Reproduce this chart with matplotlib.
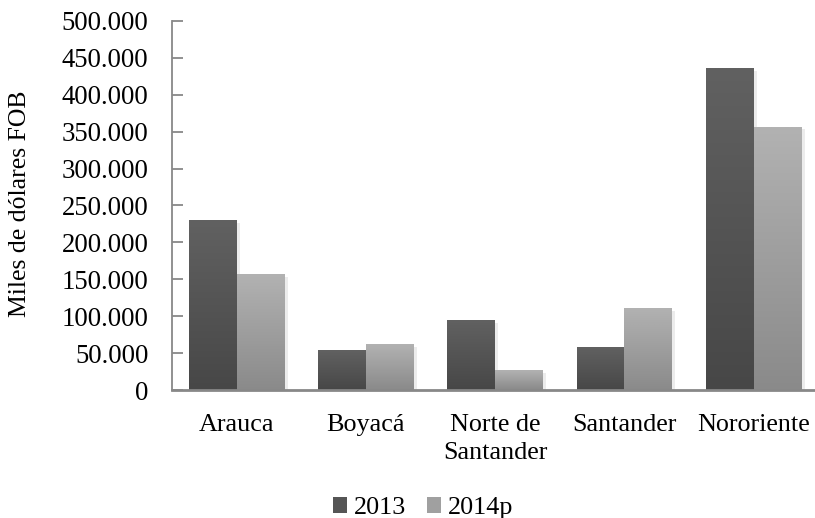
import numpy as np
import matplotlib
matplotlib.use("Agg")
from matplotlib import pyplot as plt
from matplotlib.colors import LinearSegmentedColormap
from matplotlib.patches import Patch
from matplotlib.ticker import FuncFormatter

# datos (miles de dólares FOB)
categorias = ["Arauca", "Boyacá", "Norte de\nSantander", "Santander", "Nororiente"]
serie_2013 = [229000, 53000, 93500, 58000, 435000]
serie_2014p = [156000, 61000, 26000, 110000, 356000]
nombres = ["2013", "2014p"]

plt.rcParams['font.family'] = ['Liberation Serif', 'DejaVu Serif']
plt.rcParams['font.size'] = 18.8

fig = plt.figure(figsize=(8.15, 5.18), dpi=100)
ax = fig.add_axes((172 / 815, 0.2471, 0.793, 0.7124))

# gradientes: arriba más claro, abajo más oscuro
cmap_dark = LinearSegmentedColormap.from_list("d", ["#474747", "#616161"])
cmap_light = LinearSegmentedColormap.from_list("l", ["#8a8a8a", "#b2b2b2"])
grad = np.linspace(0, 1, 256).reshape(-1, 1)

x = np.arange(len(categorias))
w = 0.37
for serie, off, cmap in [(serie_2013, -w / 2, cmap_dark), (serie_2014p, w / 2, cmap_light)]:
    bars = ax.bar(x + off, serie, width=w, color='none', zorder=2)
    for b in bars:
        x0, h = b.get_x(), b.get_height()
        # sombra suave
        sh = plt.Rectangle((x0 + 0.025, 0), w, h - 3000, color='#ececec', zorder=1, lw=0)
        ax.add_patch(sh)
        ax.imshow(grad, extent=[x0, x0 + w, 0, h], origin='lower', aspect='auto',
                  cmap=cmap, zorder=2, interpolation='bilinear')

ax.set_xlim(-0.5, 4.5)
ax.set_ylim(0, 500000)
ax.set_yticks(np.arange(0, 500001, 50000))
ax.yaxis.set_major_formatter(FuncFormatter(lambda v, p: f"{int(v):,}".replace(",", ".")))
ax.set_xticks(x)
ax.set_xticklabels(categorias, linespacing=1.4)
ax.tick_params(axis='x', length=0, pad=17)
ax.tick_params(axis='y', length=8, width=1.3, color='#888888', direction='in', pad=17,
               labelsize=19.3)

for s in ['top', 'right']:
    ax.spines[s].set_visible(False)
ax.spines['left'].set_color('#888888')
ax.spines['left'].set_linewidth(1.3)
ax.spines['bottom'].set_color('#888888')
ax.spines['bottom'].set_linewidth(2)
ax.spines['bottom'].set_zorder(3)

fig.text(20 / 815, 1 - 203.5 / 518, "Miles de dólares FOB", rotation=90,
         ha='center', va='center', fontsize=18.5)

handles = [Patch(facecolor='#555555', edgecolor='none'), Patch(facecolor='#a0a0a0', edgecolor='none')]
fig.legend(handles, nombres, loc='center', bbox_to_anchor=(0.519, 0.019), ncol=2, frameon=False,
           handlelength=0.55, handleheight=0.55, handletextpad=0.25, columnspacing=0.8,
           borderpad=0)

fig.savefig("out.png", dpi=100)
